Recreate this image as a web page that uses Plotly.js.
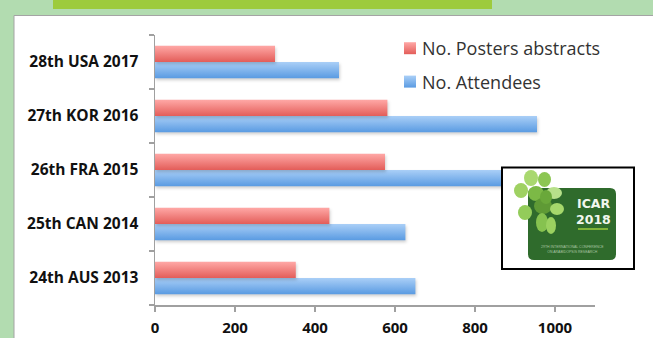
<!DOCTYPE html>
<html>
<head>
<meta charset="utf-8">
<script src="https://cdn.plot.ly/plotly-3.0.1.min.js"></script>
<style>
  html, body { margin: 0; padding: 0; background: #b2dcb0; }
  #chart { width: 653px; height: 338px; }
</style>
</head>
<body>
<div id="chart"></div>
<script>
// Conference editions, bottom to top
const conferences = ["24th AUS 2013", "25th CAN 2014", "26th FRA 2015", "27th KOR 2016", "28th USA 2017"];
const posterAbstracts = [352, 436, 575, 581, 300];
const attendees = [651, 626, 900, 955, 460];
const xTicks = [0, 200, 400, 600, 800, 1000];

const RED = "#f2817e", BLUE = "#7fb4ec";

// plot area in pixels (used to place decorations in paper coordinates)
const L = 155, R = 595, T = 35, B = 305;
const px = x => (x - L) / (R - L);
const py = y => (B - y) / (B - T);

const traces = [
  {
    type: "bar", orientation: "h", name: "No. Attendees",
    y: conferences, x: attendees,
    marker: { color: BLUE, line: { width: 0 } },
    legendgroup: "att", legendrank: 2, hoverinfo: "x+name"
  },
  {
    type: "bar", orientation: "h", name: "No. Posters abstracts",
    y: conferences, x: posterAbstracts,
    marker: { color: RED, line: { width: 0 } },
    legendgroup: "post", legendrank: 1, hoverinfo: "x+name"
  }
];

// logo panel: leaves as ellipses
const leaves = [
  [514, 183, 528, 198, "#9fd162"], [524, 170, 538, 186, "#a9d86f"],
  [538, 172, 551, 187, "#8cc653"], [528, 186, 544, 201, "#7cb946"],
  [546, 187, 562, 199, "#b7e08a"], [534, 198, 552, 214, "#5f9a35"],
  [518, 205, 532, 220, "#93cc5a"], [550, 203, 564, 215, "#a6d86c"],
  [536, 213, 548, 232, "#86c24f"], [546, 217, 556, 234, "#9bd160"],
  [540, 190, 552, 204, "#6aa83a"]
];

const shapes = [
  // white slide panel with thin grey edge
  { type: "rect", xref: "paper", yref: "paper", layer: "below",
    x0: px(14), x1: px(700), y0: py(15.5), y1: py(400),
    fillcolor: "#ffffff", line: { color: "#a4a4a4", width: 1 } },
  // lime title band
  { type: "rect", xref: "paper", yref: "paper", layer: "below",
    x0: px(53), x1: px(492), y0: py(-5), y1: py(9),
    fillcolor: "#9dcb3c", line: { width: 0 } },
  // logo frame
  { type: "rect", xref: "paper", yref: "paper", layer: "above",
    x0: px(502), x1: px(634), y0: py(167.5), y1: py(269),
    fillcolor: "#ffffff", line: { color: "#000000", width: 2 } },
  // logo dark green badge (rounded)
  { type: "path", xref: "paper", yref: "paper", layer: "above",
    path: (() => {
      const x0 = px(528), x1 = px(616), y0 = py(188), y1 = py(260);
      const rx = 6 / (R - L), ry = 6 / (B - T);
      return `M${x0 + rx},${y0} L${x1 - rx},${y0} Q${x1},${y0} ${x1},${y0 - ry} ` +
             `L${x1},${y1 + ry} Q${x1},${y1} ${x1 - rx},${y1} L${x0 + rx},${y1} ` +
             `Q${x0},${y1} ${x0},${y1 + ry} L${x0},${y0 - ry} Q${x0},${y0} ${x0 + rx},${y0} Z`;
    })(),
    fillcolor: "#2f6b2c", line: { width: 0 } },
  // lime rule under the year
  { type: "line", xref: "paper", yref: "paper", layer: "above",
    x0: px(578), x1: px(608), y0: py(229), y1: py(229),
    line: { color: "#9dcb3c", width: 1.5 } }
].concat(leaves.map(([x0, y0, x1, y1, c]) => ({
  type: "circle", xref: "paper", yref: "paper", layer: "above",
  x0: px(x0), x1: px(x1), y0: py(y0), y1: py(y1),
  fillcolor: c, line: { width: 0 }
})));

const logoFont = { family: "DejaVu Sans, sans-serif", size: 12.5, color: "#f2f7ee", weight: 700 };
const annotations = [
  { text: "ICAR", x: px(593), y: py(203), xref: "paper", yref: "paper",
    xanchor: "center", yanchor: "middle", showarrow: false, font: logoFont },
  { text: "2018", x: px(593), y: py(219), xref: "paper", yref: "paper",
    xanchor: "center", yanchor: "middle", showarrow: false, font: logoFont },
  { text: "29TH INTERNATIONAL CONFERENCE<br>ON ARABIDOPSIS RESEARCH", x: px(572), y: py(249),
    xref: "paper", yref: "paper", xanchor: "center", yanchor: "middle", showarrow: false,
    font: { family: "Liberation Sans, sans-serif", size: 3.5, color: "#a9c4a3" } }
];

const yTickFont = { family: "Open Sans, sans-serif", size: 15.5, color: "#111111", weight: 700 };
const xTickFont = { family: "Open Sans, sans-serif", size: 15, color: "#111111", weight: 700 };

const layout = {
  width: 653, height: 338,
  margin: { l: L, r: 653 - R, t: T, b: 338 - B, pad: 0 },
  paper_bgcolor: "#b2dcb0",
  plot_bgcolor: "rgba(0,0,0,0)",
  barmode: "group", bargap: 0.4, bargroupgap: 0,
  font: { family: "Open Sans, sans-serif", color: "#000000" },
  xaxis: {
    range: [0, 1100], tickvals: xTicks, ticktext: xTicks.map(String),
    showgrid: false, zeroline: false,
    showline: true, linecolor: "#a0a0a0", linewidth: 1.5,
    ticks: "outside", ticklen: 5, tickwidth: 1.5, tickcolor: "#a0a0a0",
    ticklabelstandoff: 3,
    tickfont: xTickFont,
    fixedrange: true
  },
  yaxis: {
    type: "category", categoryorder: "array", categoryarray: conferences,
    showgrid: false, zeroline: false,
    showline: true, linecolor: "#a0a0a0", linewidth: 1.5,
    ticks: "outside", ticklen: 5, tickwidth: 1.5, tickcolor: "#a0a0a0",
    tickson: "boundaries", ticklabelstandoff: 12,
    tickfont: yTickFont,
    fixedrange: true
  },
  legend: {
    x: px(390), y: py(30), xanchor: "left", yanchor: "top",
    bgcolor: "rgba(0,0,0,0)", borderwidth: 0,
    traceorder: "grouped", tracegroupgap: 7,
    font: { family: "Open Sans, sans-serif", size: 18, color: "#333333" }
  },
  shapes: shapes,
  annotations: annotations,
  showlegend: true
};

Plotly.newPlot("chart", traces, layout, { displayModeBar: false, staticPlot: true }).then(gd => {
  // vertical light-to-dark shading on the bars and legend swatches
  const svgNS = "http://www.w3.org/2000/svg";
  const defs = gd.querySelector(".main-svg defs");
  const grads = {
    red: ["#ffa8a6", "#e35d59"],
    blue: ["#aacff7", "#5a9be2"]
  };
  Object.entries(grads).forEach(([k, [c0, c1]]) => {
    const g = document.createElementNS(svgNS, "linearGradient");
    g.setAttribute("id", "shade-" + k);
    g.setAttribute("x1", "0"); g.setAttribute("y1", "0");
    g.setAttribute("x2", "0"); g.setAttribute("y2", "1");
    [[0, c0], [1, c1]].forEach(([o, c]) => {
      const s = document.createElementNS(svgNS, "stop");
      s.setAttribute("offset", o);
      s.setAttribute("stop-color", c);
      g.appendChild(s);
    });
    defs.appendChild(g);
  });
  const redRGB = "rgb(242, 129, 126)", blueRGB = "rgb(127, 180, 236)";
  gd.querySelectorAll(".barlayer path, .legend .legendpoints path").forEach(p => {
    const f = p.style.fill;
    const inBars = !!p.closest(".barlayer");
    if (f === redRGB) p.style.fill = "url(#shade-red)";
    else if (f === blueRGB) p.style.fill = "url(#shade-blue)";
    else return;
    if (inBars) p.style.filter = "drop-shadow(1px 2px 1.5px rgba(0,0,0,0.18))";
  });
  // pull the legend labels a little closer to their swatches
  gd.querySelectorAll(".legend .legendtext").forEach(t => {
    t.setAttribute("x", 32);
  });
});
</script>
</body>
</html>
